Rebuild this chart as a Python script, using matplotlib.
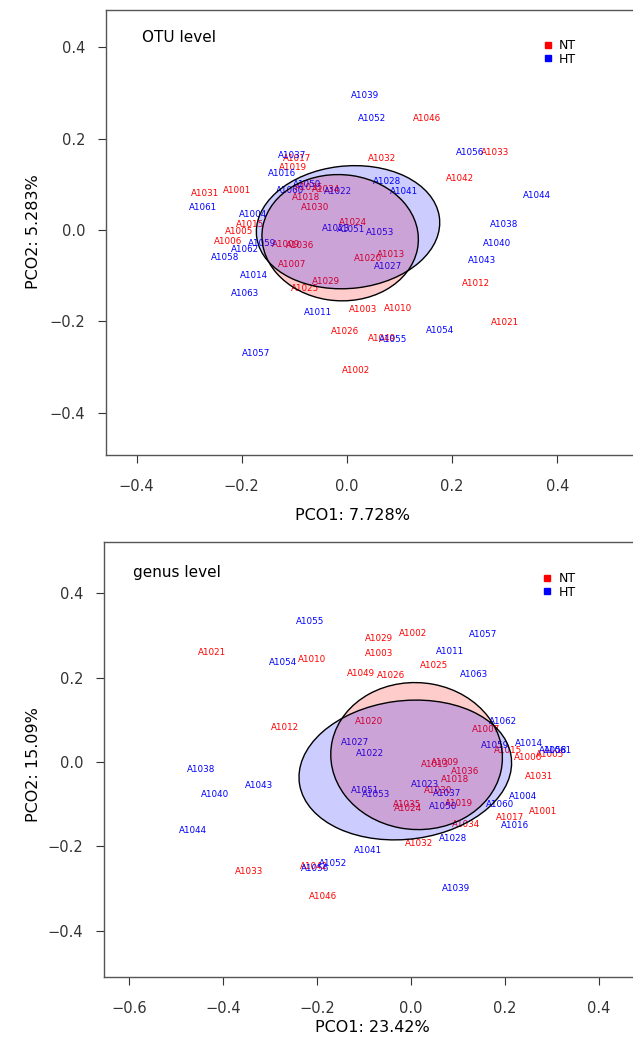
import matplotlib
matplotlib.use("Agg")
import matplotlib.pyplot as plt
from matplotlib.patches import Ellipse
from matplotlib.lines import Line2D

plt.rcParams['font.family'] = ['DejaVu Sans']

# ---- OTU level (PCoA scores) ----
otu_nt_ids = ["A1046", "A1017", "A1032", "A1019", "A1031", "A1001", "A1035", "A1034", "A1018", "A1030",
              "A1015", "A1024", "A1005", "A1006", "A1009", "A1036", "A1013", "A1020", "A1007", "A1029",
              "A1025", "A1012", "A1003", "A1010", "A1021", "A1026", "A1049", "A1002", "A1033", "A1042"]
otu_nt_x = [0.153, -0.094, 0.067, -0.102, -0.269, -0.208, -0.072, -0.039, -0.078, -0.060,
            -0.184, 0.012, -0.205, -0.226, -0.116, -0.089, 0.084, 0.041, -0.104, -0.039,
            -0.080, 0.245, 0.030, 0.098, 0.300, -0.003, 0.066, 0.018, 0.281, 0.214]
otu_nt_y = [0.245, 0.156, 0.156, 0.137, 0.080, 0.087, 0.093, 0.089, 0.072, 0.050,
            0.012, 0.017, -0.004, -0.026, -0.031, -0.035, -0.053, -0.062, -0.076, -0.113,
            -0.129, -0.118, -0.175, -0.172, -0.202, -0.222, -0.237, -0.307, 0.169, 0.112]

otu_ht_ids = ["A1039", "A1052", "A1037", "A1016", "A1050", "A1060", "A1022", "A1028", "A1041", "A1061",
              "A1004", "A1023", "A1051", "A1053", "A1059", "A1062", "A1058", "A1027", "A1014", "A1063",
              "A1011", "A1054", "A1055", "A1057", "A1056", "A1044", "A1038", "A1040", "A1043"]
otu_ht_x = [0.034, 0.048, -0.105, -0.124, -0.075, -0.108, -0.017, 0.077, 0.109, -0.274,
            -0.178, -0.020, 0.007, 0.063, -0.162, -0.194, -0.231, 0.079, -0.177, -0.194,
            -0.056, 0.177, 0.088, -0.173, 0.234, 0.362, 0.299, 0.285, 0.256]
otu_ht_y = [0.295, 0.245, 0.163, 0.123, 0.100, 0.087, 0.085, 0.107, 0.085, 0.049,
            0.034, 0.004, 0.002, -0.005, -0.029, -0.042, -0.060, -0.081, -0.099, -0.139,
            -0.180, -0.220, -0.240, -0.270, 0.169, 0.075, 0.012, -0.030, -0.068]

# ---- genus level (PCoA scores) ----
gen_nt_ids = ["A1029", "A1002", "A1021", "A1010", "A1003", "A1025", "A1049", "A1026", "A1012", "A1020",
              "A1007", "A1015", "A1006", "A1005", "A1009", "A1013", "A1036", "A1031", "A1018", "A1030",
              "A1035", "A1024", "A1019", "A1001", "A1017", "A1034", "A1032", "A1042", "A1033", "A1046"]
gen_nt_x = [-0.067, 0.004, -0.424, -0.211, -0.068, 0.050, -0.107, -0.043, -0.268, -0.089,
            0.159, 0.206, 0.250, 0.297, 0.072, 0.051, 0.115, 0.272, 0.094, 0.058,
            -0.009, -0.006, 0.103, 0.282, 0.211, 0.117, 0.017, -0.206, -0.345, -0.187]
gen_nt_y = [0.294, 0.305, 0.259, 0.242, 0.258, 0.229, 0.209, 0.206, 0.082, 0.096,
            0.076, 0.028, 0.011, 0.017, -0.002, -0.006, -0.022, -0.034, -0.042, -0.068,
            -0.100, -0.110, -0.098, -0.117, -0.132, -0.149, -0.193, -0.249, -0.259, -0.319]

gen_ht_ids = ["A1055", "A1057", "A1054", "A1011", "A1063", "A1062", "A1027", "A1022", "A1059", "A1014",
              "A1058", "A1061", "A1023", "A1037", "A1051", "A1053", "A1004", "A1050", "A1060", "A1016",
              "A1028", "A1038", "A1043", "A1040", "A1044", "A1041", "A1052", "A1056", "A1039"]
gen_ht_x = [-0.215, 0.153, -0.272, 0.084, 0.135, 0.196, -0.119, -0.087, 0.180, 0.251,
            0.303, 0.313, 0.030, 0.076, -0.098, -0.074, 0.239, 0.069, 0.189, 0.221,
            0.090, -0.447, -0.323, -0.416, -0.463, -0.092, -0.165, -0.204, 0.096]
gen_ht_y = [0.333, 0.303, 0.237, 0.263, 0.207, 0.097, 0.047, 0.019, 0.039, 0.045,
            0.028, 0.028, -0.053, -0.074, -0.067, -0.077, -0.082, -0.106, -0.100, -0.150,
            -0.181, -0.019, -0.056, -0.078, -0.162, -0.209, -0.240, -0.252, -0.301]

# group ellipses: centre x, centre y, width, height, angle
otu_nt_ell = (-0.013, -0.017, 0.298, 0.276, -10)
otu_ht_ell = (0.002, 0.006, 0.350, 0.268, 8)
gen_nt_ell = (0.012, 0.014, 0.366, 0.348, -12)
gen_ht_ell = (-0.012, -0.019, 0.455, 0.328, 9)

panels = [
    dict(rect=[0.1675, 0.5617, 0.8515, 0.4287], xlim=(-0.458, 0.5665), ylim=(-0.493, 0.482),
         xticks=[-0.4, -0.2, 0.0, 0.2, 0.4], title="OTU level", title_pos=(0.067, 0.937),
         xlabel="PCO1: 7.728%", ylabel="PCO2: 5.283%", xlab_pos=(353, 516), ylab_pos=(34, 232),
         leg_y=0.935, nt=(otu_nt_ids, otu_nt_x, otu_nt_y), ht=(otu_ht_ids, otu_ht_x, otu_ht_y),
         ells=(otu_nt_ell, otu_ht_ell)),
    dict(rect=[0.1643, 0.0588, 0.8547, 0.4191], xlim=(-0.653, 0.498), ylim=(-0.510, 0.522),
         xticks=[-0.6, -0.4, -0.2, 0.0, 0.2, 0.4], title="genus level", title_pos=(0.054, 0.929),
         xlabel="PCO1: 23.42%", ylabel="PCO2: 15.09%", xlab_pos=(372, 1027), ylab_pos=(34, 765),
         leg_y=0.931, nt=(gen_nt_ids, gen_nt_x, gen_nt_y), ht=(gen_ht_ids, gen_ht_x, gen_ht_y),
         ells=(gen_nt_ell, gen_ht_ell)),
]

W, H = 633, 1038
fig = plt.figure(figsize=(W / 100, H / 100), dpi=100)

for p in panels:
    ax = fig.add_axes(p["rect"])
    ax.set_xlim(*p["xlim"])
    ax.set_ylim(*p["ylim"])

    for (ids, xs, ys), col in [(p["nt"], "red"), (p["ht"], "blue")]:
        for name, x, y in zip(ids, xs, ys):
            ax.text(x, y, name, color=col, fontsize=6.3, ha="center", va="center", zorder=1)

    for (cx, cy, w, h, ang), col in zip(p["ells"], ["red", "blue"]):
        ax.add_patch(Ellipse((cx, cy), w, h, angle=ang, facecolor=col, alpha=0.2,
                             edgecolor="none", zorder=2))
        ax.add_patch(Ellipse((cx, cy), w, h, angle=ang, facecolor="none",
                             edgecolor="black", lw=1.0, zorder=3))

    ax.set_xticks(p["xticks"])
    ax.set_xticklabels([f"{v:.1f}".replace("-", "\u2212") for v in p["xticks"]])
    yt = [-0.4, -0.2, 0.0, 0.2, 0.4]
    ax.set_yticks(yt)
    ax.set_yticklabels([f"{v:.1f}".replace("-", "\u2212") for v in yt])
    ax.tick_params(direction="out", length=6, width=0.8, colors="#333333", labelsize=10.5)
    ax.tick_params(axis="x", pad=11)
    ax.tick_params(axis="y", pad=9)
    for s in ax.spines.values():
        s.set_color("#555555")
        s.set_linewidth(1.0)

    ax.text(p["title_pos"][0], p["title_pos"][1], p["title"], transform=ax.transAxes,
            fontsize=11, ha="left", va="center")

    handles = [Line2D([], [], marker="s", color=c, linestyle="", markersize=4) for c in ["red", "blue"]]
    ax.legend(handles, ["NT", "HT"], loc="upper left", bbox_to_anchor=(0.81, p["leg_y"]),
              frameon=False, fontsize=9, handlelength=0.8, handletextpad=0.5,
              labelspacing=0.05, borderpad=0, borderaxespad=0)

    fig.text(p["xlab_pos"][0] / W, 1 - p["xlab_pos"][1] / H, p["xlabel"], fontsize=11.5,
             ha="center", va="center")
    fig.text(p["ylab_pos"][0] / W, 1 - p["ylab_pos"][1] / H, p["ylabel"], fontsize=11.5,
             ha="center", va="center", rotation=90)

fig.savefig("out.png", dpi=100)
